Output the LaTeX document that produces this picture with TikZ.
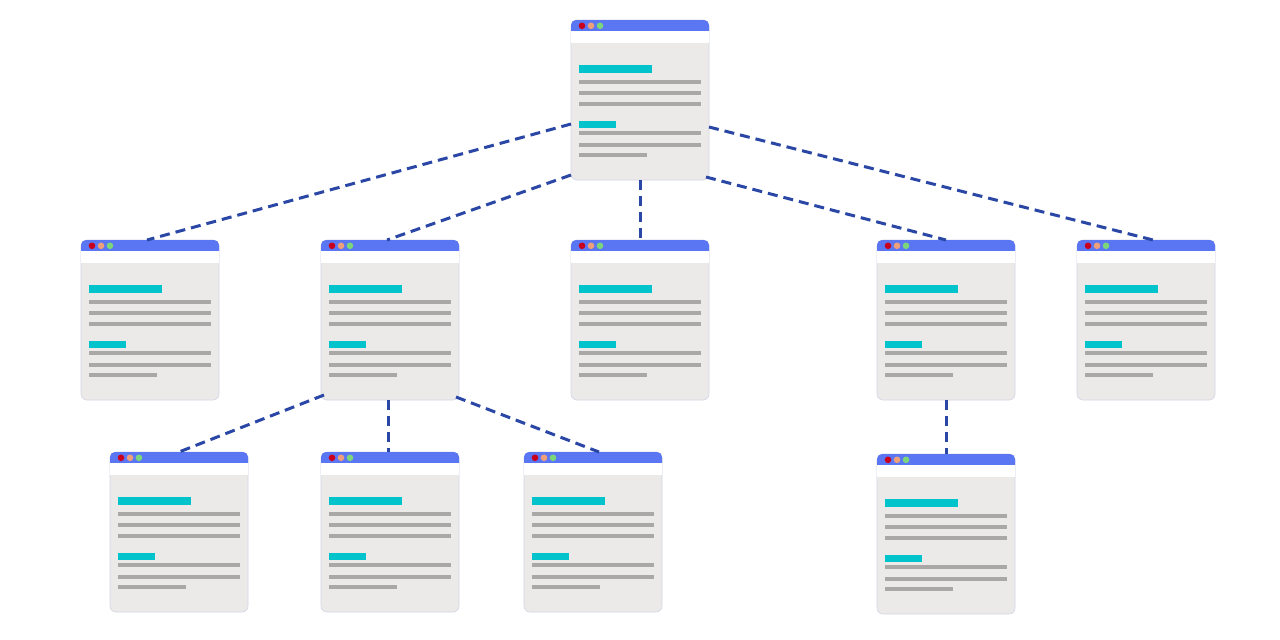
\documentclass[tikz,border=0pt]{standalone}
\usetikzlibrary{calc}
\definecolor{hdr}{HTML}{5B76F2}
\definecolor{bodyg}{HTML}{ECEAE9}
\definecolor{barcyan}{HTML}{00C3CC}
\definecolor{lineg}{HTML}{A9A8A6}
\definecolor{dotred}{HTML}{C8001E}
\definecolor{dotorange}{HTML}{EFA07A}
\definecolor{dotgreen}{HTML}{7CD67A}
\definecolor{conn}{HTML}{2B47A6}
\definecolor{boxborder}{HTML}{D3D5E4}
\tikzset{
  x=1pt, y=1pt,
  pagebox/.style={rectangle, rounded corners=6pt, minimum width=138pt, minimum height=160pt,
    inner sep=0pt, outer sep=0pt, fill=bodyg, draw=boxborder, line width=0.6pt},
  link/.style={draw=conn, line width=3pt, dash pattern=on 10pt off 6pt},
  cyanbar/.style={fill=barcyan},
  greybar/.style={fill=lineg}
}
\newcommand\pagebox[3]{%
  \node[pagebox, anchor=north west] (#1) at (#2,-#3) {};
  \begin{scope}[shift={(#2,-#3)}]
    \fill[hdr] (0,-11) -- (0,-5) arc[start angle=180,end angle=90,radius=5pt]
      -- (133,0) arc[start angle=90,end angle=0,radius=5pt] -- (138,-11) -- cycle;
    \fill[white] (0.3,-11) rectangle (137.7,-23);
    \fill[dotred] (11,-5.8) circle[radius=3.3pt];
    \fill[dotorange] (20,-5.8) circle[radius=3.3pt];
    \fill[dotgreen] (29,-5.8) circle[radius=3.3pt];
    \fill[cyanbar] (8,-45) rectangle (81,-53);
    \fill[greybar] (8,-59.8) rectangle (130,-63.6);
    \fill[greybar] (8,-70.8) rectangle (130,-74.6);
    \fill[greybar] (8,-81.8) rectangle (130,-85.6);
    \fill[cyanbar] (8,-100.7) rectangle (45,-108.3);
    \fill[greybar] (8,-111.3) rectangle (130,-115.1);
    \fill[greybar] (8,-122.8) rectangle (130,-126.6);
    \fill[greybar] (8,-133.4) rectangle (76,-137.2);
  \end{scope}}
\begin{document}
\begin{tikzpicture}
\useasboundingbox (0,0) rectangle (1280,-640);
\fill[white] (0,0) rectangle (1280,-640);
\pagebox{top}{571}{20}
\pagebox{a}{81}{240}
\pagebox{b}{321}{240}
\pagebox{c}{571}{240}
\pagebox{d}{877}{240}
\pagebox{e}{1077}{240}
\pagebox{ba}{110}{452}
\pagebox{bb}{321}{452}
\pagebox{bc}{524}{452}
\pagebox{da}{877}{454}
\path[link] ($(top.north west)+(0,-104)$) -- ($(a.north)+(-3,0)$);
\path[link] ($(top.north west)+(0,-155)$) -- ($(b.north)+(-3,0)$);
\path[link] (top.south) -- (c.north);
\path[link] ($(top.north east)+(-3,-157)$) -- (d.north);
\path[link] ($(top.north east)+(0,-107)$) -- ($(e.north)+(7,0)$);
\path[link] ($(b.north west)+(3,-155)$) -- (ba.north);
\path[link] ($(b.south)+(-2,0)$) -- ($(bb.north)+(-2,0)$);
\path[link] ($(b.north east)+(-3,-157)$) -- ($(bc.north)+(6,0)$);
\path[link] (d.south) -- (da.north);
\end{tikzpicture}
\end{document}
